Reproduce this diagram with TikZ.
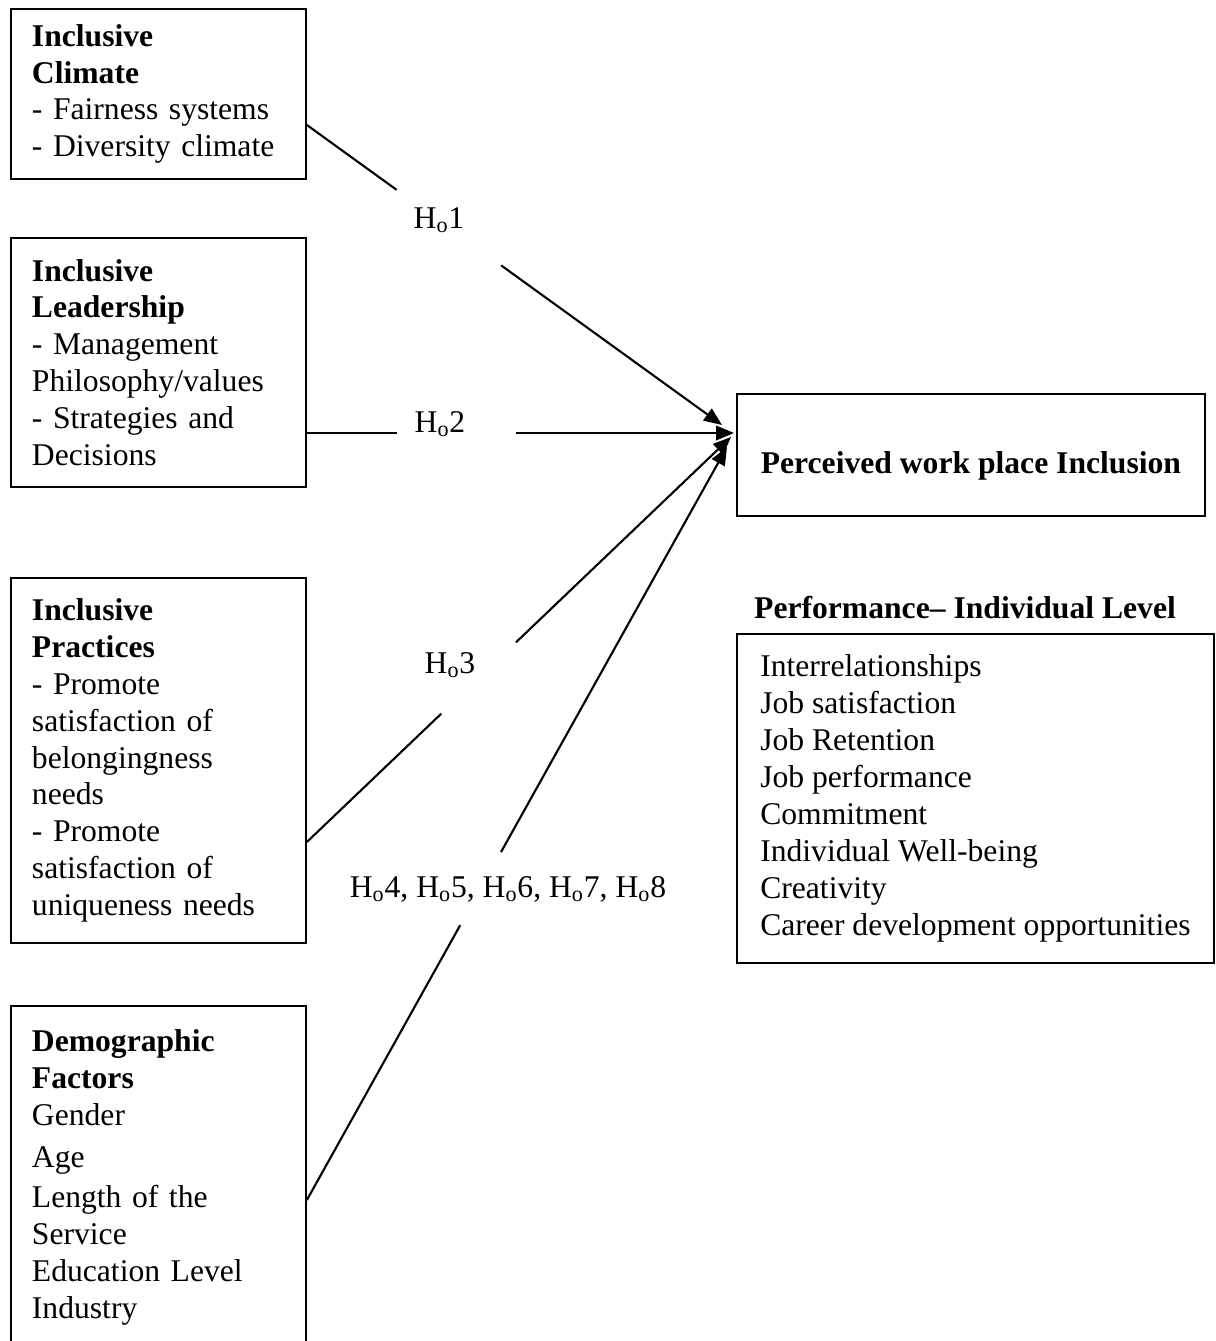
\documentclass[tikz,border=0pt]{standalone}
\usepackage{fontspec}
\setmainfont{Liberation Serif}
\usetikzlibrary{arrows.meta}
\tikzset{
  factor/.style={draw, line width=1.1pt, anchor=north west, minimum width=5.9cm,
    text width=5.06cm, inner xsep=0.42cm, inner ysep=0pt, align=left,
    font=\fontsize{18}{21}\selectfont},
  outcome/.style={draw, line width=1.1pt, anchor=north west, inner ysep=0pt,
    font=\fontsize{18}{21}\selectfont},
  hyp/.style={inner sep=0pt, font=\fontsize{18}{21}\selectfont},
  link/.style={line width=1.2pt},
  linkto/.style={link, -{Triangle[length=0.36cm,width=0.29cm]}}
}
\begin{document}
\begin{tikzpicture}[x=0.02cm, y=-0.02cm]
        \useasboundingbox (0,0) rectangle (1216,1341);
        % factor boxes on the left
        \node[factor, minimum height=3.4cm] (climate) at (10,8)
          {\textbf{Inclusive}\\\textbf{Climate}\\- Fairness systems\\- Diversity climate};
        \node[factor, minimum height=4.98cm] (leader) at (10,237)
          {\textbf{Inclusive}\\\textbf{Leadership}\\- Management\\Philosophy/values\\- Strategies and\\Decisions};
        \node[factor, minimum height=7.3cm] (practice) at (10,577)
          {\textbf{Inclusive}\\\textbf{Practices}\\- Promote\\satisfaction of\\belongingness\\needs\\- Promote\\satisfaction of\\uniqueness needs};
        \node[factor, minimum height=6.86cm] (demo) at (10,1005)
          {\textbf{Demographic}\\\textbf{Factors}\\Gender\\[3pt]Age\\[2pt]Length of the\\Service\\Education Level\\Industry};
        % outcome side
        \node[outcome, minimum width=9.36cm, minimum height=2.44cm,
          text height=0.84cm, text depth=0.1cm] (perc) at (736,393)
          {\textbf{Perceived work place Inclusion}};
        \node[hyp] (perfhead) at (965,608) {\textbf{Performance-- Individual Level}};
        \node[outcome, minimum width=9.54cm, minimum height=6.58cm,
          inner xsep=0.42cm, align=left] (perf) at (736,633)
          {Interrelationships\\Job satisfaction\\Job Retention\\Job performance\\Commitment\\Individual Well-being\\Creativity\\Career development opportunities};
        % hypothesis labels
        \node[hyp] (h1) at (439,220) {H\textsubscript{o}1};
        \node[hyp] (h2) at (440,424) {H\textsubscript{o}2};
        \node[hyp] (h3) at (450,665) {H\textsubscript{o}3};
        \node[hyp] (h4) at (508,889) {H\textsubscript{o}4, H\textsubscript{o}5, H\textsubscript{o}6, H\textsubscript{o}7, H\textsubscript{o}8};
        % arrows, broken where the labels sit
        \coordinate (s1) at (climate.east |- 0,125);
        \coordinate (s2) at (leader.east |- 0,433);
        \coordinate (s3) at (practice.east |- 0,842);
        \coordinate (s4) at (demo.east |- 0,1200);
        \coordinate (e1) at (722,425);
        \coordinate (e2) at (734,433);
        \coordinate (e3) at (731,437);
        \coordinate (e4) at (727,447);
        \path (s1) -- (e1) coordinate[pos=0.216] (g1a) coordinate[pos=0.468] (g1b);
        \path (s2) -- (e2) coordinate[pos=0.21] (g2a) coordinate[pos=0.49] (g2b);
        \path (s3) -- (e3) coordinate[pos=0.317] (g3a) coordinate[pos=0.493] (g3b);
        \path (s4) -- (e4) coordinate[pos=0.365] (g4a) coordinate[pos=0.462] (g4b);
        \foreach \i in {1,2,3,4} {
          \draw[link] (s\i) -- (g\i a);
          \draw[linkto] (g\i b) -- (e\i);
        }
      \end{tikzpicture}
\end{document}
